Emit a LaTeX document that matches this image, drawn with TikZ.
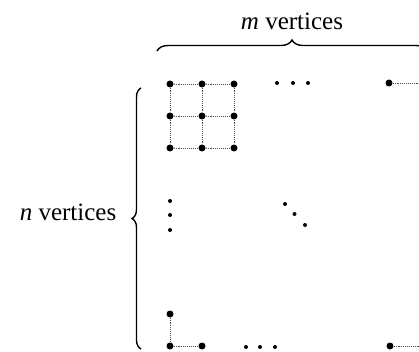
\documentclass[tikz,border=0pt]{standalone}
\usepackage{fontspec}
\setmainfont{Liberation Serif}
\usetikzlibrary{decorations.pathreplacing}
\tikzset{
  vtx/.style={circle,fill=black,inner sep=0pt,minimum size=7pt},
  sdot/.style={circle,fill=black,inner sep=0pt,minimum size=4pt},
  gedge/.style={densely dotted,line width=0.9pt,draw=black!70},
  brc/.style={decorate,decoration={brace,amplitude=#1},line width=1.4pt},
  lbl/.style={font=\fontsize{25}{30}\selectfont,inner sep=0pt},
}
\begin{document}
\begin{tikzpicture}[x=1pt,y=-1pt]
  \useasboundingbox (0,0) rectangle (419,352);
  \clip (0,0) rectangle (419,352);

  % ---------- 3x3 corner grid ----------
  \foreach \i/\x in {1/170,2/202,3/234}
    \foreach \j/\y in {1/84,2/116,3/148}
      \node[vtx] (g\i\j) at (\x,\y) {};
  \foreach \i in {1,2,3} {
    \draw[gedge] (g\i1) -- (g\i2) -- (g\i3);
    \draw[gedge] (g1\i) -- (g2\i) -- (g3\i);
  }

  % ---------- top right corner ----------
  \node[vtx] (tr) at (389,83) {};
  \coordinate (trc) at (419.3,83);
  \coordinate (trd) at (419.3,116);
  \draw[gedge] (tr) -- (trc) -- (trd);

  % ---------- bottom left corner ----------
  \node[vtx] (bla) at (170,314) {};
  \node[vtx] (blb) at (170,346) {};
  \node[vtx] (blc) at (202,346) {};
  \draw[gedge] (bla) -- (blb) -- (blc);

  % ---------- bottom right corner ----------
  \node[vtx] (br) at (390,346) {};
  \coordinate (brc) at (419.3,346);
  \coordinate (brd) at (419.3,314);
  \draw[gedge] (br) -- (brc) -- (brd);

  % ---------- ellipsis dots ----------
  \foreach \k/\x/\y in {1/277/83,2/293/83,3/308/83}
    \node[sdot] (top\k) at (\x,\y) {};
  \foreach \k/\x/\y in {1/170/201,2/170/215,3/170/230}
    \node[sdot] (lft\k) at (\x,\y) {};
  \foreach \k/\x/\y in {1/285/204,2/294.5/214,3/305/225}
    \node[sdot] (dia\k) at (\x,\y) {};
  \foreach \k/\x/\y in {1/246/347,2/260/347,3/275/347}
    \node[sdot] (bot\k) at (\x,\y) {};

  % ---------- braces and labels ----------
  \draw[brc=11] (157,51) -- (427,51);
  \draw[brc=9] (141,349) -- (141,88);
  \node[lbl] (mlab) at (292,21) {\textit{m} vertices};
  \node[lbl] (nlab) at (68,212) {\textit{n} vertices};
\end{tikzpicture}
\end{document}
